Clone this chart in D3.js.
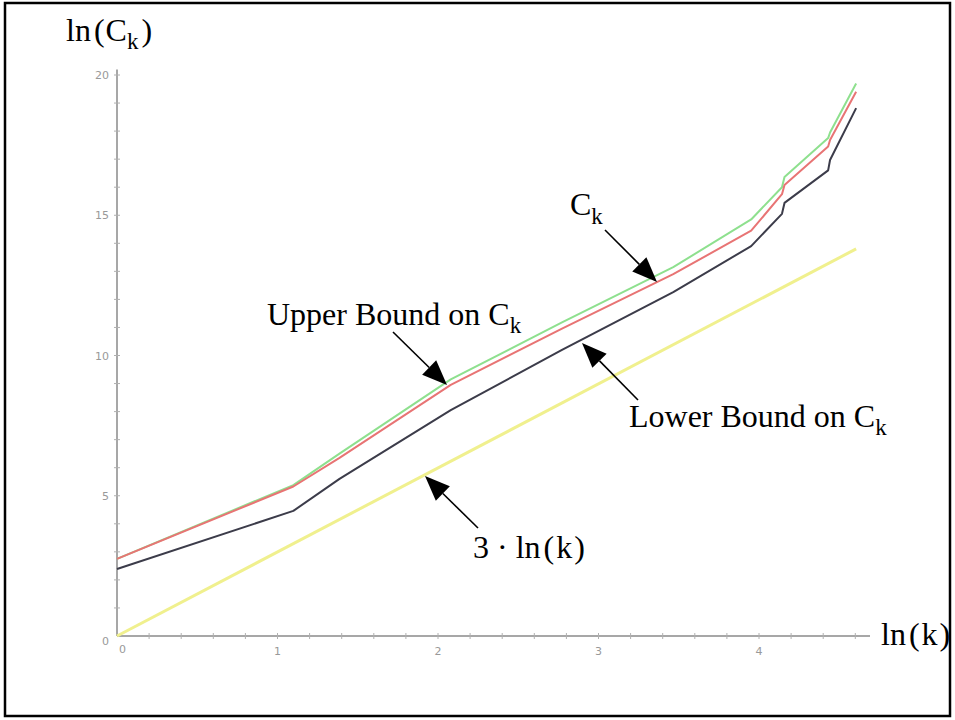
<!DOCTYPE html>
<html>
<head>
<meta charset="utf-8">
<script src="https://cdn.jsdelivr.net/npm/d3@7"></script>
<style>
  body { margin: 0; background: #fff; }
  .note { font-family: "Liberation Serif", "Times New Roman", serif; font-size: 32px; fill: #000; }
  .tick-label { font-family: "DejaVu Sans", sans-serif; font-size: 11px; fill: #999; }
</style>
</head>
<body>
<div id="chart"></div>
<script>
// values, indexed by k (x axis shows ln(k))
const kVals   = [1,    3,    4,    8,    16,    32,    52,    63,    64,    84,    85,    100];
const upperCk = [2.75, 5.38, 6.50, 9.15, 11.18, 13.15, 14.85, 16.00, 16.36, 17.75, 17.95, 19.70];
const valCk   = [2.75, 5.33, 6.35, 8.95, 10.96, 12.90, 14.45, 15.75, 16.08, 17.45, 17.68, 19.40];
const lowerCk = [2.39, 4.46, 5.60, 8.05, 10.20, 12.26, 13.90, 15.05, 15.44, 16.60, 16.97, 18.82];
const refK    = [1, 100];
const refVal  = [0, 13.8];   // 3 * ln(k)

const xTicks = [1, 2, 3, 4];
const yTicks = [5, 10, 15, 20];

const width = 955, height = 720;

const svg = d3.select("#chart")
    .append("svg")
    .attr("width", width)
    .attr("height", height);

// outer frame
svg.append("rect")
    .attr("x", 5).attr("y", 3)
    .attr("width", 945).attr("height", 713)
    .attr("fill", "none")
    .attr("stroke", "#000")
    .attr("stroke-width", 2.5);

const x = d3.scaleLinear().domain([0, 4.7]).range([117, 117 + 160.5 * 4.7]);
const y = d3.scaleLinear().domain([0, 20]).range([636, 75]);

// axes (Maple style: ticks crossing the line)
const axisColor = "#8a8a8a";
svg.append("line")
    .attr("x1", x(0)).attr("x2", 870)
    .attr("y1", y(0)).attr("y2", y(0))
    .attr("stroke", axisColor).attr("stroke-width", 1.5);
svg.append("line")
    .attr("x1", x(0)).attr("x2", x(0))
    .attr("y1", y(0)).attr("y2", y(20.2))
    .attr("stroke", axisColor).attr("stroke-width", 1.5);

const xMinor = d3.range(1, 24).map(i => i * 0.2);
svg.selectAll(".xminor")
    .data(xMinor)
    .enter().append("line")
    .attr("x1", d => x(d)).attr("x2", d => x(d))
    .attr("y1", y(0) - 3).attr("y2", y(0) + 3)
    .attr("stroke", "#b0b0b0");

const yMinor = d3.range(1, 21);
svg.selectAll(".yminor")
    .data(yMinor)
    .enter().append("line")
    .attr("x1", x(0) - 3).attr("x2", x(0) + 3)
    .attr("y1", d => y(d)).attr("y2", d => y(d))
    .attr("stroke", "#b0b0b0");

svg.selectAll(".xlab")
    .data(xTicks)
    .enter().append("text")
    .attr("class", "tick-label")
    .attr("x", d => x(d))
    .attr("y", y(0) + 19)
    .attr("text-anchor", "middle")
    .text(d => d);

svg.selectAll(".ylab")
    .data(yTicks)
    .enter().append("text")
    .attr("class", "tick-label")
    .attr("x", x(0) - 8)
    .attr("y", d => y(d) + 4)
    .attr("text-anchor", "end")
    .text(d => d);

svg.append("text").attr("class", "tick-label")
    .attr("x", x(0) - 8).attr("y", y(0) + 9)
    .attr("text-anchor", "end").text("0");
svg.append("text").attr("class", "tick-label")
    .attr("x", x(0) + 2).attr("y", y(0) + 17)
    .text("0");

// curves
const line = d3.line()
    .x(d => x(Math.log(d[0])))
    .y(d => y(d[1]));

const series = [
    { vals: refVal, ks: refK, color: "#f0f08e", w: 3 },
    { vals: lowerCk, ks: kVals, color: "#3c3c4a", w: 2 },
    { vals: upperCk, ks: kVals, color: "#8ee08e", w: 2 },
    { vals: valCk, ks: kVals, color: "#e87474", w: 2 }
];

series.forEach(function (s) {
    svg.append("path")
        .datum(s.ks.map((k, i) => [k, s.vals[i]]))
        .attr("d", line)
        .attr("fill", "none")
        .attr("stroke", s.color)
        .attr("stroke-width", s.w)
        .attr("stroke-linejoin", "round");
});

// labels: parts = [text, dx, dy, size]
function label(parts, lx, ly) {
    const t = svg.append("text")
        .attr("class", "note")
        .attr("x", lx).attr("y", ly);
    parts.forEach(function (p) {
        const s = t.append("tspan").attr("dx", p[1] || 0).attr("dy", p[2] || 0).text(p[0]);
        if (p[3]) s.style("font-size", p[3] + "px");
    });
}

label([["ln"], ["(", 3], ["C", 1], ["k", 0, 8, 23], [")", 3, -8]], 66, 41);
label([["ln"], ["(", 3], ["k", 2], [")", 2]], 881, 645);
label([["C"], ["k", 0, 9, 23]], 570, 215);
label([["Upper Bound on C"], ["k", 0, 8, 23]], 267, 325);
label([["Lower Bound on C"], ["k", 0, 8, 23]], 629, 427);
label([["3 \u00b7 ln"], ["(", 3], ["k", 2], [")", 2]], 473, 558);

// arrows
function arrow(x1, y1, x2, y2) {
    const ang = Math.atan2(y2 - y1, x2 - x1);
    const len = 25, half = 10;
    const bx = x2 - len * Math.cos(ang), by = y2 - len * Math.sin(ang);
    svg.append("line")
        .attr("x1", x1).attr("y1", y1)
        .attr("x2", bx).attr("y2", by)
        .attr("stroke", "#000").attr("stroke-width", 1.6);
    const px = -Math.sin(ang) * half, py = Math.cos(ang) * half;
    svg.append("path")
        .attr("d", "M" + x2 + "," + y2 +
            "L" + (bx + px) + "," + (by + py) +
            "L" + (bx - px) + "," + (by - py) + "Z")
        .attr("fill", "#000");
}

arrow(393, 332, 447, 385);
arrow(605, 230, 657, 282);
arrow(638, 400, 582, 343);
arrow(478, 528, 425, 476);
</script>
</body>
</html>
